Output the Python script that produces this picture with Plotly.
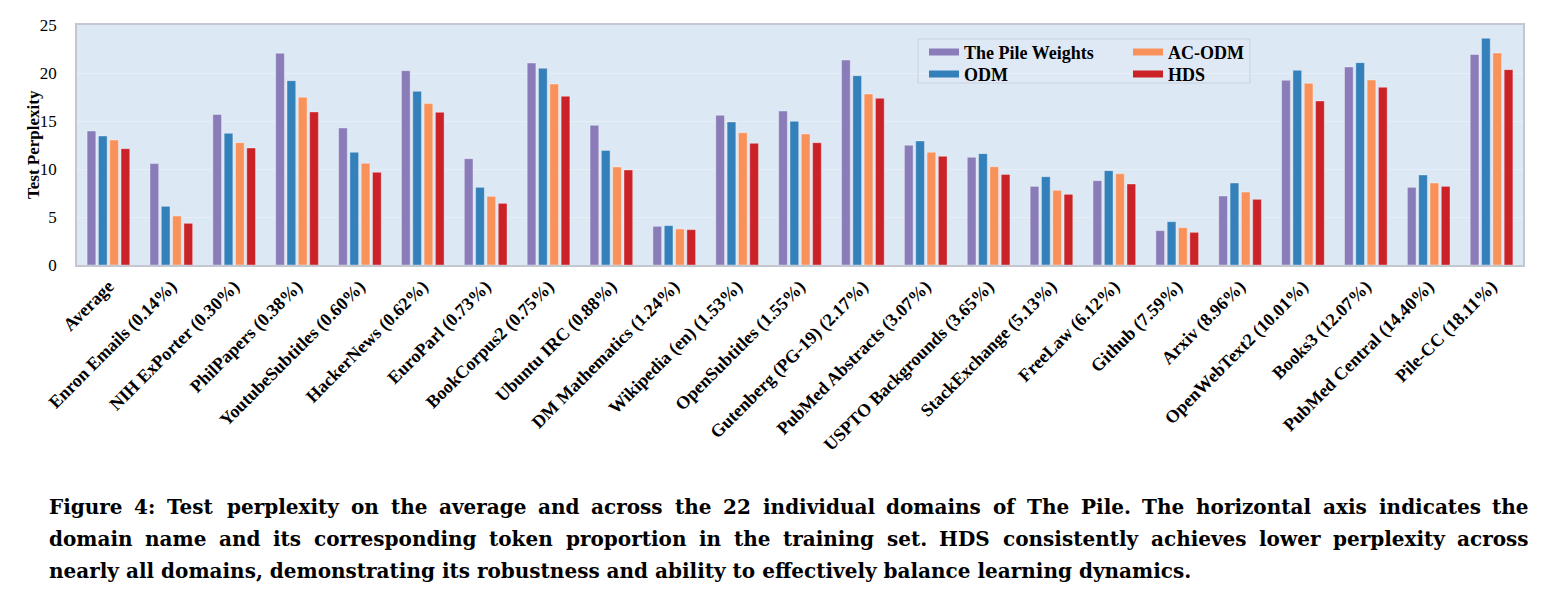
import os
import struct
import plotly.graph_objects as go

categories = [
    "Average", "Enron Emails (0.14%)", "NIH ExPorter (0.30%)", "PhilPapers (0.38%)",
    "YoutubeSubtitles (0.60%)", "HackerNews (0.62%)", "EuroParl (0.73%)",
    "BookCorpus2 (0.75%)", "Ubuntu IRC (0.88%)", "DM Mathematics (1.24%)",
    "Wikipedia (en) (1.53%)", "OpenSubtitles (1.55%)", "Gutenberg (PG-19) (2.17%)",
    "PubMed Abstracts (3.07%)", "USPTO Backgrounds (3.65%)", "StackExchange (5.13%)",
    "FreeLaw (6.12%)", "Github (7.59%)", "Arxiv (8.96%)", "OpenWebText2 (10.01%)",
    "Books3 (12.07%)", "PubMed Central (14.40%)", "Pile-CC (18.11%)",
]

pile_weights = [13.96, 10.56, 15.69, 22.05, 14.27, 20.24, 11.08, 21.04, 14.55, 4.03,
                15.59, 16.04, 21.35, 12.47, 11.22, 8.19, 8.78, 3.58, 7.19, 19.24,
                20.63, 8.09, 21.94]
odm = [13.44, 6.11, 13.72, 19.20, 11.74, 18.09, 8.09, 20.49, 11.94, 4.10,
       14.90, 14.97, 19.72, 12.92, 11.60, 9.20, 9.83, 4.51, 8.54, 20.28,
       21.08, 9.38, 23.61]
ac_odm = [13.02, 5.10, 12.74, 17.47, 10.59, 16.81, 7.15, 18.85, 10.21, 3.75,
          13.78, 13.65, 17.81, 11.74, 10.24, 7.78, 9.51, 3.89, 7.60, 18.92,
          19.27, 8.54, 22.08]
hds = [12.12, 4.34, 12.19, 15.94, 9.65, 15.90, 6.42, 17.57, 9.90, 3.68,
       12.67, 12.74, 17.36, 11.32, 9.44, 7.36, 8.44, 3.40, 6.84, 17.08,
       18.51, 8.19, 20.35]

series_names = ["The Pile Weights", "ODM", "AC-ODM", "HDS"]
series_values = [pile_weights, odm, ac_odm, hds]
colors = ["#8a7cb9", "#3380ba", "#f9925a", "#cb2227"]

y_tick_vals = [0, 5, 10, 15, 20, 25]
y_title = "Test Perplexity"

caption_lines = [
    "Figure 4: Test perplexity on the average and across the 22 individual domains of The Pile. The horizontal axis indicates the",
    "domain name and its corresponding token proportion in the training set. HDS consistently achieves lower perplexity across",
    "nearly all domains, demonstrating its robustness and ability to effectively balance learning dynamics.",
]
caption_justified = [True, True, False]

W, H = 1544, 604
L, R, T, B = 77, 21, 25, 339
PW, PH = W - L - R, H - T - B


def px_x(px):
    return (px - L) / PW


def px_y(py):
    return (H - B - py) / PH


# ---------- minimal TrueType advance-width reader (for justified caption) ----------
def find_font(fname):
    for root_dir in ["/usr/share/fonts", "/usr/local/share/fonts",
                     os.path.expanduser("~/.fonts"), os.path.expanduser("~/.local/share/fonts")]:
        if not os.path.isdir(root_dir):
            continue
        for root, _, files in os.walk(root_dir):
            if fname in files:
                return os.path.join(root, fname)
    return None


def load_advances(path):
    data = open(path, "rb").read()
    num_tables = struct.unpack(">H", data[4:6])[0]
    tables = {}
    for i in range(num_tables):
        rec = data[12 + 16 * i: 28 + 16 * i]
        tag = rec[:4].decode("latin1")
        _, off, ln = struct.unpack(">III", rec[4:16])
        tables[tag] = off
    upm = struct.unpack(">H", data[tables["head"] + 18: tables["head"] + 20])[0]
    n_hm = struct.unpack(">H", data[tables["hhea"] + 34: tables["hhea"] + 36])[0]
    hm = tables["hmtx"]
    adv = [struct.unpack(">H", data[hm + 4 * i: hm + 4 * i + 2])[0] for i in range(n_hm)]
    co = tables["cmap"]
    n_sub = struct.unpack(">H", data[co + 2: co + 4])[0]
    st = None
    for i in range(n_sub):
        pid, eid, soff = struct.unpack(">HHI", data[co + 4 + 8 * i: co + 12 + 8 * i])
        fmt = struct.unpack(">H", data[co + soff: co + soff + 2])[0]
        if fmt == 4 and (pid == 3 and eid == 1 or pid == 0):
            st = co + soff
            break
    if st is None:
        return None
    segx2 = struct.unpack(">H", data[st + 6: st + 8])[0]
    seg = segx2 // 2
    ends = struct.unpack(">%dH" % seg, data[st + 14: st + 14 + segx2])
    starts = struct.unpack(">%dH" % seg, data[st + 16 + segx2: st + 16 + 2 * segx2])
    deltas = struct.unpack(">%dh" % seg, data[st + 16 + 2 * segx2: st + 16 + 3 * segx2])
    ro_pos = st + 16 + 3 * segx2
    ranges = struct.unpack(">%dH" % seg, data[ro_pos: ro_pos + segx2])

    def glyph(c):
        for i in range(seg):
            if starts[i] <= c <= ends[i]:
                if ranges[i] == 0:
                    return (c + deltas[i]) & 0xFFFF
                addr = ro_pos + 2 * i + ranges[i] + 2 * (c - starts[i])
                g = struct.unpack(">H", data[addr: addr + 2])[0]
                return (g + deltas[i]) & 0xFFFF if g else 0
        return 0

    def width(text, size):
        tot = 0
        for ch in text:
            g = glyph(ord(ch))
            tot += adv[min(g, n_hm - 1)]
        return tot * size / upm

    return width


CAP_FONT = dict(family="DejaVu Serif", size=20, color="black", weight="bold")
measure = None
try:
    fp = find_font("DejaVuSerif-Bold.ttf")
    if fp:
        measure = load_advances(fp)
except Exception:
    measure = None

SERIF = "Liberation Serif"

fig = go.Figure()
for name, vals, col in zip(series_names, series_values, colors):
    fig.add_trace(go.Bar(
        x=categories, y=vals, name=name, showlegend=False,
        marker=dict(color=col, line=dict(color="rgba(255,255,255,0.45)", width=0.8)),
    ))

# legend entries (drawn as wide line swatches), two columns
legend_slots = ["legend", "legend2", "legend3", "legend4"]
for name, col, slot in zip(series_names, colors, legend_slots):
    fig.add_trace(go.Scatter(
        x=[None], y=[None], mode="lines", name=name, legend=slot,
        line=dict(color=col, width=7), showlegend=True, hoverinfo="skip",
    ))

leg_font = dict(family=SERIF, size=18, color="black", weight="bold")
col1_x, col2_x = px_x(924), px_x(1128)
row1_y, row2_y = px_y(52.3), px_y(74.3)
legend_common = dict(font=leg_font, bgcolor="rgba(0,0,0,0)", borderwidth=0,
                     xanchor="left", yanchor="middle", itemsizing="trace")

fig.update_layout(
    width=W, height=H,
    margin=dict(l=L, r=R, t=T, b=B, autoexpand=False),
    paper_bgcolor="white",
    plot_bgcolor="#dde8f5",
    barmode="group",
    bargap=0.28,
    bargroupgap=0.23,
    legend=dict(x=col1_x, y=row1_y, **legend_common),
    legend2=dict(x=col1_x, y=row2_y, **legend_common),
    legend3=dict(x=col2_x, y=row1_y, **legend_common),
    legend4=dict(x=col2_x, y=row2_y, **legend_common),
    xaxis=dict(
        type="category", tickangle=-45, automargin=False,
        tickfont=dict(family=SERIF, size=18, color="black", weight="bold"),
        showgrid=False, showline=True, linecolor="#c3c8d0", linewidth=1.5, mirror=True,
        ticks="", ticklabelstandoff=2,
    ),
    yaxis=dict(
        range=[0, 25], tickvals=y_tick_vals, automargin=False,
        tickfont=dict(family=SERIF, size=17, color="black"),
        showgrid=True, gridcolor="#e8eef7", gridwidth=1,
        showline=True, linecolor="#c3c8d0", linewidth=1.5, mirror=True,
        zeroline=False, ticks="", ticklabelstandoff=15,
    ),
    shapes=[dict(
        type="rect", xref="paper", yref="paper",
        x0=px_x(918), x1=px_x(1250), y0=px_y(83), y1=px_y(39),
        line=dict(color="#c9d1dc", width=1), fillcolor="rgba(255,255,255,0.08)", layer="above",
    )],
)

fig.add_annotation(
    text=y_title, xref="paper", yref="paper", x=px_x(33), y=px_y(145),
    xanchor="center", yanchor="middle", textangle=-90, showarrow=False,
    font=dict(family=SERIF, size=17, color="black", weight="bold"),
)

CAP_LEFT, CAP_RIGHT = 48, 1528
for i, (line, just) in enumerate(zip(caption_lines, caption_justified)):
    yy = px_y(507 + 32 * i)
    if just and measure is not None:
        words = line.split(" ")
        widths = [measure(w, CAP_FONT["size"]) for w in words]
        gap = (CAP_RIGHT - CAP_LEFT - sum(widths)) / (len(words) - 1)
        xpos = CAP_LEFT
        for w, wd in zip(words, widths):
            fig.add_annotation(
                text=w, xref="paper", yref="paper", x=px_x(xpos), y=yy,
                xanchor="left", yanchor="middle", showarrow=False, borderpad=0,
                font=CAP_FONT,
            )
            xpos += wd + gap
    else:
        fig.add_annotation(
            text=line, xref="paper", yref="paper", x=px_x(CAP_LEFT), y=yy,
            xanchor="left", yanchor="middle", showarrow=False, borderpad=0,
            font=CAP_FONT,
        )

fig.write_html("out.html")
